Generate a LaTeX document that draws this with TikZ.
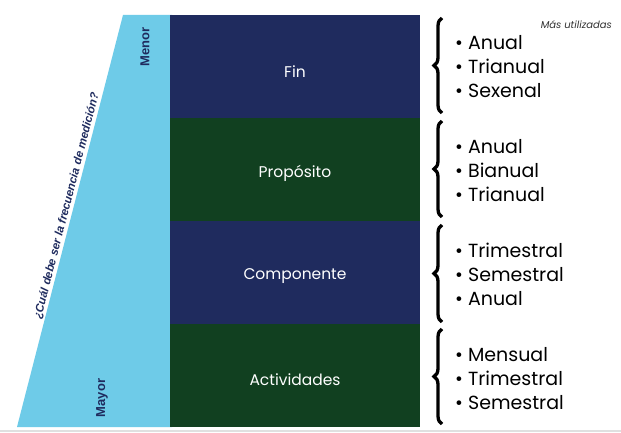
\documentclass[tikz,border=0pt]{standalone}
\usepackage{fontspec}
\setmainfont{Poppins}
\newfontfamily\arialf{Liberation Sans}
\usetikzlibrary{decorations.pathreplacing,calc}
\definecolor{navyc}{RGB}{31,43,94}
\definecolor{greenc}{RGB}{17,64,32}
\definecolor{skyc}{RGB}{110,203,232}
\definecolor{txtgray}{RGB}{50,50,50}
\begin{document}
\begin{tikzpicture}[x=1pt,y=-1pt,
  levelbox/.style={minimum width=250pt,minimum height=103pt,inner sep=0pt},
  levellabel/.style={inner sep=0pt,text=white,font=\fontsize{15.5}{18}\selectfont},
  bracestyle/.style={decorate,decoration={brace,amplitude=8pt},line width=3.3pt},
  freqlist/.style={anchor=west,align=left,inner sep=0pt,text=black,font=\fontsize{19}{24}\selectfont},
  sidelabel/.style={rotate=90,text=navyc,font=\arialf\bfseries\fontsize{13}{15}\selectfont}
]
\useasboundingbox (0,0) rectangle (621,433);
\fill[white] (0,0) rectangle (621,433);
\draw[black!12,line width=2pt] (0,431) -- (621,431);
% trapezoid
\fill[skyc] (123,15) -- (172,15) -- (172,427) -- (17,427) -- cycle;
\coordinate (tl) at (123,15);
\coordinate (bl) at (17,427);
% level boxes
\node[levelbox,fill=navyc] (fin) at (295,66.5) {};
\node[levelbox,fill=greenc] (prop) at (295,169.5) {};
\node[levelbox,fill=navyc] (comp) at (295,272.5) {};
\node[levelbox,fill=greenc] (act) at (295,375.5) {};
\node[levellabel] (finl) at (295,72) {Fin};
\node[levellabel] (propl) at (295,173) {Propósito};
\node[levellabel] (compl) at (295,276) {Componente};
\node[levellabel] (actl) at (295,380) {Actividades};
% side labels
\node[sidelabel] (menor) at (145,47) {Menor};
\node[sidelabel] (mayor) at (102,398) {Mayor};
\node[rotate=75.6,anchor=south,inner sep=1.5pt,text=navyc,font=\arialf\bfseries\itshape\fontsize{11.5}{13}\selectfont] (q) at ($(tl)!0.468!(bl)$) {¿Cuál debe ser la frecuencia de medición?};
% braces
\coordinate (b1s) at (442,113); \coordinate (b1e) at (442,18);
\coordinate (b2s) at (442,217); \coordinate (b2e) at (442,121);
\coordinate (b3s) at (442,322); \coordinate (b3e) at (442,225);
\coordinate (b4s) at (442,424); \coordinate (b4e) at (442,329);
\draw[bracestyle] (b1s) -- (b1e);
\draw[bracestyle] (b2s) -- (b2e);
\draw[bracestyle] (b3s) -- (b3e);
\draw[bracestyle] (b4s) -- (b4e);
% lists
\node[freqlist] (l1) at (455,67) {• Anual\\• Trianual\\• Sexenal};
\node[freqlist] (l2) at (455,171) {• Anual\\• Bianual\\• Trianual};
\node[freqlist] (l3) at (455,274) {• Trimestral\\• Semestral\\• Anual};
\node[freqlist] (l4) at (455,379) {• Mensual\\• Trimestral\\• Semestral};
\node[anchor=east,inner sep=0pt,text=txtgray,font=\itshape\fontsize{10}{12}\selectfont] (mas) at (612,25) {Más utilizadas};
\end{tikzpicture}
\end{document}
